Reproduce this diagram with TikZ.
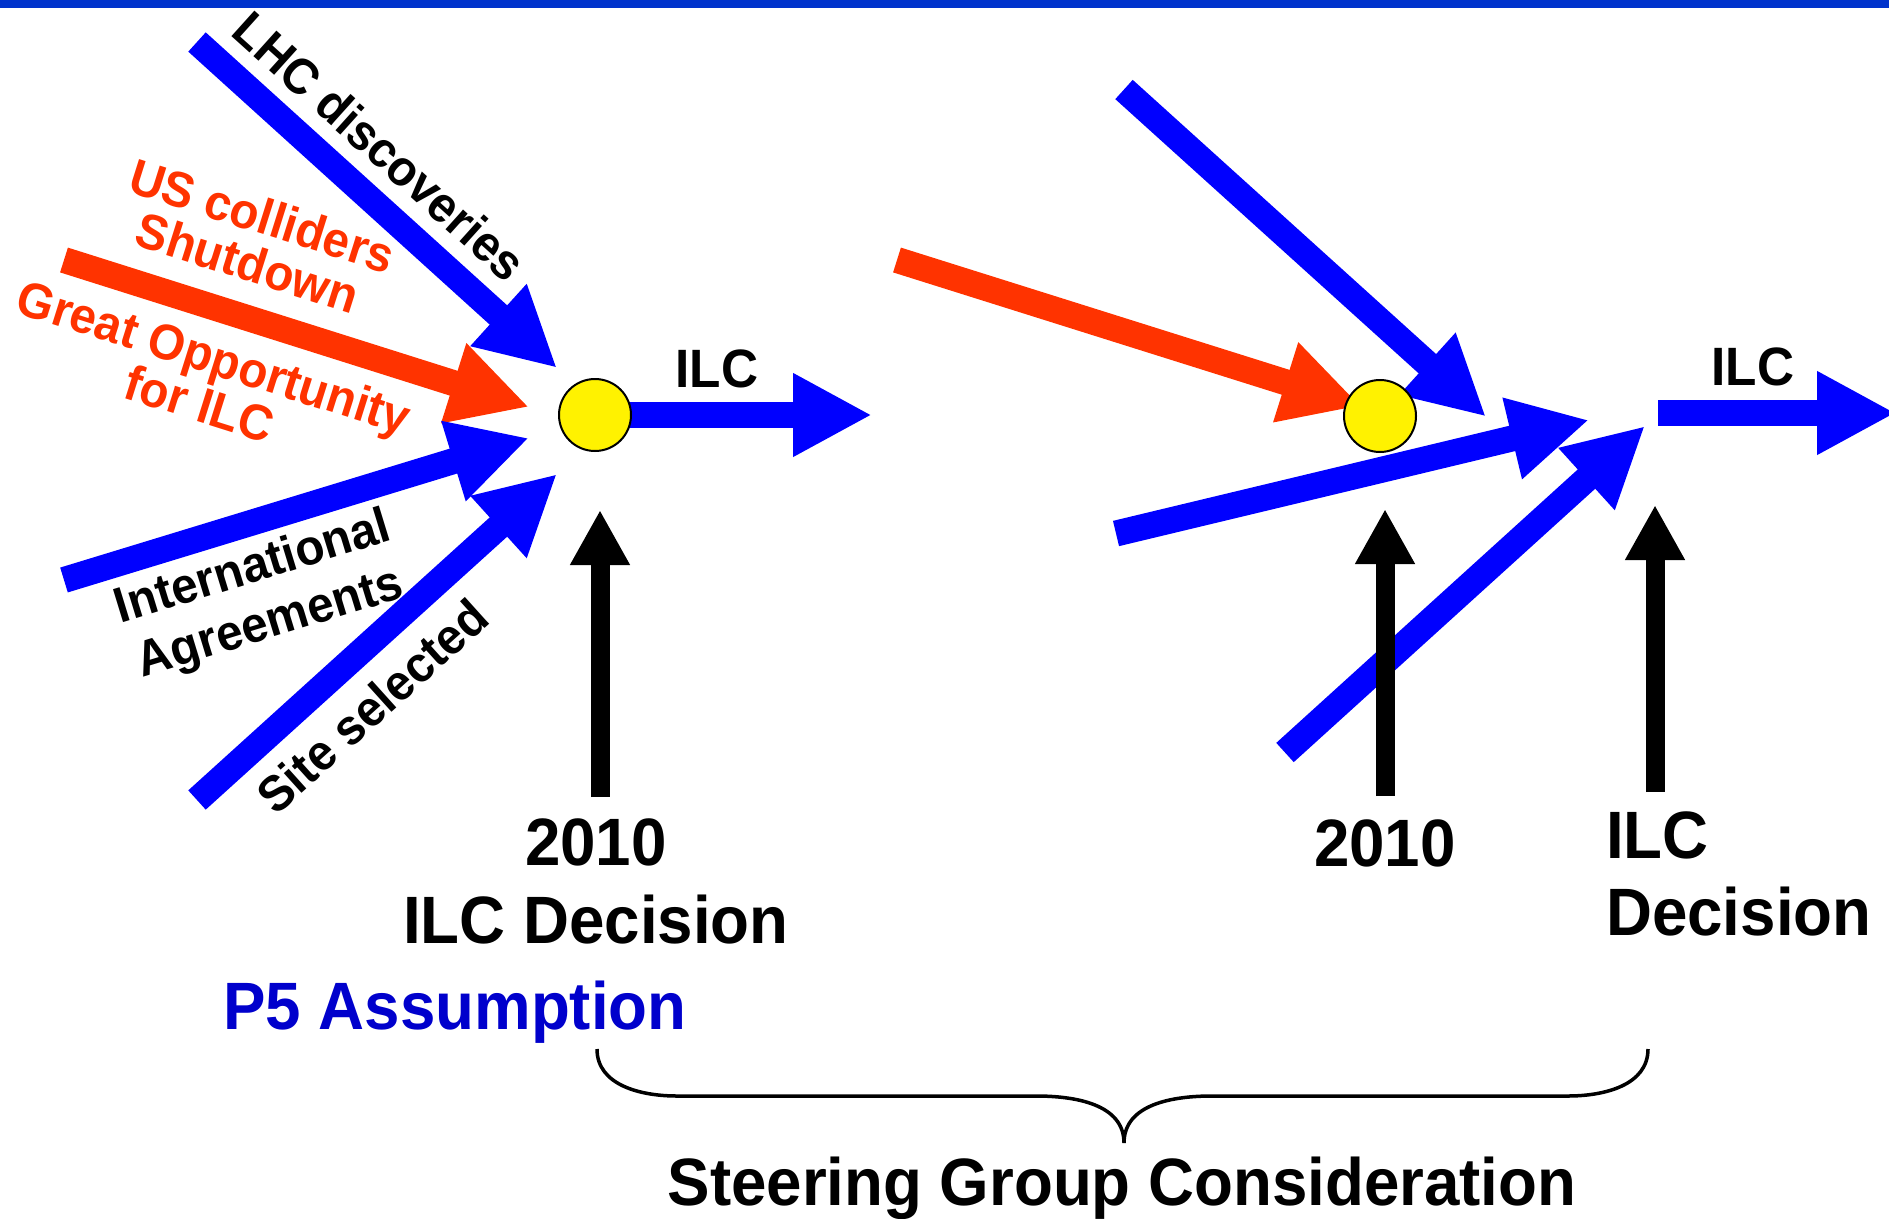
\documentclass[tikz,border=0pt]{standalone}
\usepackage{fontspec}
\setmainfont{Liberation Sans}[FakeStretch=0.95]
\usepackage{tikz}
\usetikzlibrary{arrows.meta,positioning}
\definecolor{flowblue}{HTML}{0000FF}
\definecolor{pushred}{HTML}{FF3300}
\definecolor{barblue}{HTML}{0033CC}
\definecolor{noteblue}{HTML}{0000CC}
\tikzset{
	flow/.style={draw=flowblue, line width=26pt, -{Triangle[length=79pt,width=78pt]}},
	push/.style={flow, draw=pushred},
	rise/.style={draw=black, line width=19pt, -{Triangle[length=55pt,width=56pt]}},
	hub/.style={circle, draw=black, line width=2pt, fill=yellow, minimum size=72pt, inner sep=0pt},
	tag/.style={font=\fontsize{50}{49}\selectfont\bfseries, inner sep=0pt, align=center},
	bigtag/.style={font=\fontsize{67}{78}\selectfont\bfseries, inner sep=0pt},
	ilctag/.style={font=\fontsize{54}{60}\selectfont\bfseries, inner sep=0pt}
}
\begin{document}
\begin{tikzpicture}[x=1pt,y=-1pt]
		
		\useasboundingbox (0,0) rectangle (1889,1218);
		\fill[barblue] (0,0) rectangle (1889,8.3);
		
		% left cluster
		\coordinate (hubL) at (595,415);
		\coordinate (lhcA) at (197,42);
		\coordinate (lhcB) at (557,368);
		\coordinate (usA) at (64,260);
		\coordinate (usB) at (529,407);
		\coordinate (intA) at (64,580);
		\coordinate (intB) at (529,438);
		\coordinate (siteA) at (197,800);
		\coordinate (siteB) at (557,474);
		\coordinate (outL) at (872,415);
		
		\draw[flow] (lhcA)--(lhcB);
		\draw[push] (usA)--(usB);
		\draw[flow] (intA)--(intB);
		\draw[flow] (siteA)--(siteB);
		\draw[flow] (hubL)--(outL);
		
		\coordinate (riseLA) at (600,797);
		\coordinate (riseLB) at (600,510);
		\draw[rise] (riseLA)--(riseLB);
		
		\node[hub] (dotL) at (hubL) {};
		
		% right cluster
		\coordinate (hubR) at (1380,416);
		\coordinate (topA) at (1124,89.5);
		\coordinate (topB) at (1486,416.7);
		\coordinate (redA) at (897,260);
		\coordinate (redB) at (1361,406);
		\coordinate (midA) at (1116,533.5);
		\coordinate (midB) at (1589,420);
		\coordinate (lowA) at (1285,752.5);
		\coordinate (lowB) at (1645,426);
		\coordinate (outRA) at (1658,413);
		\coordinate (outRB) at (1896,413);
		
		\draw[flow] (topA)--(topB);
		\draw[push] (redA)--(redB);
		\draw[flow] (midA)--(midB);
		\draw[flow] (lowA)--(lowB);
		\draw[flow] (outRA)--(outRB);
		
		\coordinate (riseRA) at (1385,796);
		\coordinate (riseRB) at (1385,509);
		\coordinate (riseSA) at (1655,792);
		\coordinate (riseSB) at (1655,505);
		\draw[rise] (riseRA)--(riseRB);
		\draw[rise] (riseSA)--(riseSB);
		
		\node[hub] (dotR) at (hubR) {};
		
		% labels on the arrows
		\node[
		tag,
		rotate=-42
		]
		(lhcTag)
		at (380,146)
		{LHC discoveries};
		
		\node[
		tag,
		text=pushred,
		rotate=-17.5
		]
		(usTag)
		at (255,239)
		{US colliders\\Shutdown};
		
		\node[
		tag,
		text=pushred,
		rotate=-17.5
		]
		(goTag)
		at (207,380)
		{Great Opportunity\\for ILC};
		
		\node[
		tag,
		font=\fontsize{50}{58}\selectfont\bfseries,
		rotate=17
		]
		(intTag)
		at (262,597)
		{International\\Agreements};
		
		\node[
		tag,
		rotate=42
		]
		(siteTag)
		at (372,706)
		{Site selected};
		
		\node[ilctag, anchor=base] (ilcL) at (717,387) {ILC};
		\node[ilctag, anchor=base] (ilcR) at (1753,385) {ILC};
		
		% dates and decisions
		\node[
		bigtag,
		align=center,
		anchor=base
		]
		(decL)
		at (596,943)
		{2010\\ILC Decision};
		
		\node[bigtag, anchor=base] (yearR) at (1385,866) {2010};
		
		\node[
		bigtag,
		font=\fontsize{67}{77}\selectfont\bfseries,
		align=left,
		anchor=base west
		]
		(decR)
		at (1606,935)
		{ILC\\Decision};
		
		\node[
		bigtag,
		text=noteblue,
		anchor=base
		]
		(p5)
		at (455,1029)
		{P5 Assumption};
		
		% brace
		\coordinate (braceL) at (597,1049);
		\coordinate (braceM) at (1124,1143);
		\coordinate (braceR) at (1648,1049);
		\draw[line width=3.5pt] (braceL) to[out=-90,in=180] (677,1096) -- (1036,1096)
			to[out=0,in=90] (braceM) to[out=90,in=180] (1212,1096) -- (1568,1096)
			to[out=0,in=-90] (braceR);
		
		\node[bigtag, anchor=base] (sgc) at (1122,1205) {Steering Group Consideration};
		
	\end{tikzpicture}
\end{document}
